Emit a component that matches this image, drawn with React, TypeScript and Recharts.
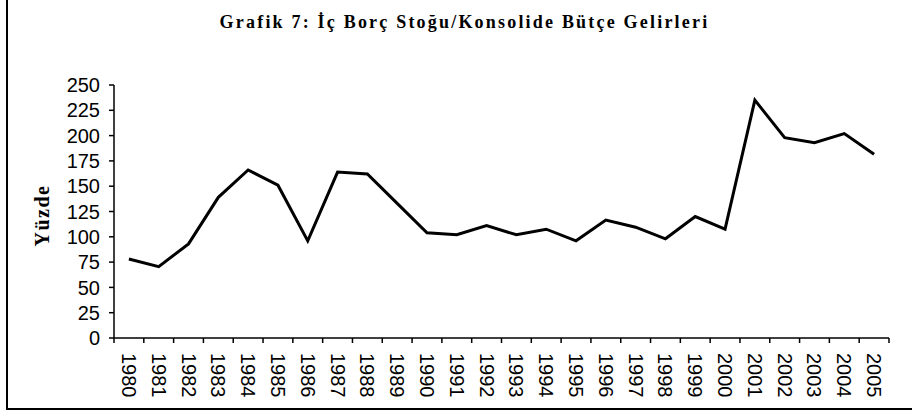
import React from 'react';
import { LineChart, Line, XAxis, YAxis, Label } from 'recharts';

const years = [
    '1980', '1981', '1982', '1983', '1984', '1985', '1986', '1987', '1988',
    '1989', '1990', '1991', '1992', '1993', '1994', '1995', '1996', '1997',
    '1998', '1999', '2000', '2001', '2002', '2003', '2004', '2005',
];

const stockRatio = [
    78, 70.5, 93, 139, 166, 151, 96, 164, 162, 133, 104, 102, 111,
    102, 107.5, 96, 116.5, 109.5, 98, 120, 107.5, 235, 198, 193, 202, 181.5,
];

const yTicks = [0, 25, 50, 75, 100, 125, 150, 175, 200, 225, 250];

const data = years.map((year, i) => ({ year, value: stockRatio[i] }));

const W = 912;
const H = 417;
const LEFT = 114;
const RIGHT = 23;
const STEP = (W - LEFT - RIGHT) / years.length;

const axisFont = '"Liberation Sans", Arial, sans-serif';
const serifFont = '"Liberation Serif", "Times New Roman", serif';

// year label rotated downwards, tick marks sit between categories
const YearTick = (props: any) => {
    const { x, y, payload, index } = props;
    const left = x - STEP / 2;
    const right = x + STEP / 2;
    return (
        <g>
            <line x1={left} y1={y} x2={left} y2={y + 5} stroke="#000" strokeWidth={1.5} />
            {index === years.length - 1 && (
                <line x1={right} y1={y} x2={right} y2={y + 5} stroke="#000" strokeWidth={1.5} />
            )}
            <text
                x={x}
                y={y + 15}
                transform={`rotate(90, ${x}, ${y + 15})`}
                textAnchor="start"
                dominantBaseline="central"
                fontFamily={axisFont}
                fontSize={20}
                fill="#000"
            >
                {payload.value}
            </text>
        </g>
    );
};

const App: React.FC = () => (
    <div style={{ position: 'absolute', left: 0, top: 0, width: W, height: H, background: '#fff' }}>
        <div
            style={{
                position: 'absolute',
                left: 6,
                top: -4,
                width: W,
                height: 414,
                borderLeft: '2px solid #000',
                borderBottom: '2px solid #000',
                boxSizing: 'border-box',
            }}
        />
        <div
            style={{
                position: 'absolute',
                left: 0,
                top: 12,
                width: 929,
                textAlign: 'center',
                fontFamily: serifFont,
                fontWeight: 'bold',
                fontSize: 18,
                letterSpacing: 2.2,
                lineHeight: '21px',
            }}
        >
            Grafik 7: İç Borç Stoğu/Konsolide Bütçe Gelirleri
        </div>
        <LineChart
            width={W}
            height={H}
            data={data}
            margin={{ top: 85, right: RIGHT, bottom: 0, left: 0 }}
            style={{ position: 'absolute', left: 0, top: 0 }}
        >
            <XAxis
                dataKey="year"
                height={79}
                interval={0}
                padding={{ left: STEP / 2, right: STEP / 2 }}
                axisLine={{ stroke: '#000', strokeWidth: 1.5 }}
                tickLine={false}
                tickSize={0}
                tickMargin={0}
                tick={<YearTick />}
            />
            <YAxis
                width={LEFT}
                domain={[0, 250]}
                ticks={yTicks}
                interval={0}
                axisLine={{ stroke: '#000', strokeWidth: 1.5 }}
                tickLine={{ stroke: '#000', strokeWidth: 1.5 }}
                tickSize={5}
                tickMargin={9}
                tick={{ fill: '#000', fontSize: 20, fontFamily: axisFont }}
            >
                <Label
                    value="Yüzde"
                    angle={-90}
                    position="insideLeft"
                    offset={42}
                    dy={4}
                    style={{
                        fontFamily: serifFont,
                        fontWeight: 'bold',
                        fontSize: 20,
                        letterSpacing: 1.5,
                        fill: '#000',
                        textAnchor: 'middle',
                    }}
                />
            </YAxis>
            <Line
                type="linear"
                dataKey="value"
                stroke="#000"
                strokeWidth={3}
                dot={false}
                isAnimationActive={false}
            />
        </LineChart>
    </div>
);

export default App;
